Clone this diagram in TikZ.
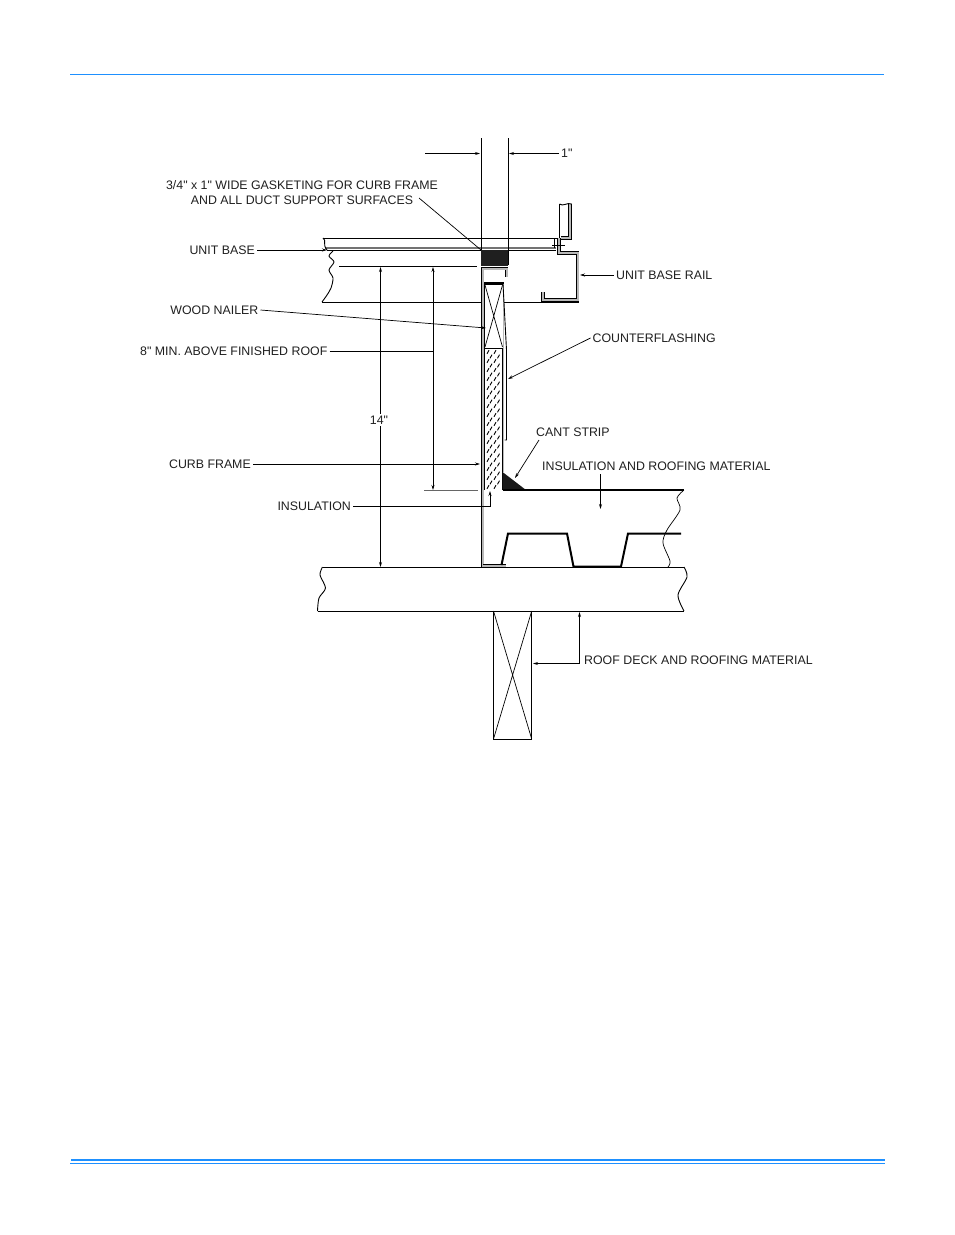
\documentclass[tikz,border=0pt]{standalone}
\usepackage{fontspec}
\newfontfamily\lblfont{Liberation Sans}
\usetikzlibrary{arrows.meta}
\definecolor{rulecol}{HTML}{1E90FF}
\definecolor{railcol}{gray}{0.72}
\tikzset{
  lbl/.style = {inner sep=2pt, text=black!88, font=\lblfont\fontsize{12.36}{15}\selectfont},
  lead/.style = {line width=.7pt},
  outline/.style = {line width=.9pt},
  heavy/.style = {line width=2pt},
  railline/.style = {line width=.95pt, double=railcol, double distance=2pt},
  fleck/.style = {line width=.9pt},
}
\begin{document}
\begin{tikzpicture}[x=1pt, y=-1pt, >={Stealth[length=5pt,width=3pt]}, line join=miter]
\useasboundingbox (0,0) rectangle (954,1235);
% page rules
\draw [rulecol, line width=1pt] (70,74) -- (884,74);
\draw [rulecol, line width=2pt] (71,1160) -- (885,1160);
\draw [rulecol, line width=1pt] (70,1163.5) -- (885,1163.5);
% unit base
\draw [outline] (323,238) -- (560,238);
\draw [black!55, line width=1.6pt] (325,248) -- (556,248);
\draw [outline] (327,250) -- (481,250);
\draw [outline] (323,238) .. controls (327,241) and (322,244) .. (327,250);
\draw [outline] plot [smooth] coordinates {(333,251) (329,256) (334,262) (329,270) (333,278) (331,288) (327,295) (322,302)};
\draw [outline] (322,302) -- (481,302);
\draw [outline] (504,302) -- (579,302);
\draw [outline] (508,250) -- (556,250);
% rail
\draw [railline] (543,292) -- (543,300) -- (577.5,300) -- (577.5,252.7) -- (558.7,252.7) -- (558.7,238);
\draw [railline] (570,204) -- (570,238) -- (560.7,238);
\draw [outline] (559.5,204) -- (559.5,238);
\draw [outline] (559.5,204) .. controls (563,207) and (567,202) .. (571.7,204);
\draw [outline] (554,238) -- (554,248);
\draw [outline] (552,245) -- (565,245);
% gasket
\fill [black!88] (481,250) rectangle (507.5,266);
% curb frame
\draw [railline] (482.5,567) -- (482.5,268.5) -- (506.5,268.5) -- (506.5,277);
\draw [railline] (483,565.5) -- (505.5,565.5);
% wood nailer
\draw [outline] (484.5,284) -- (484.5,348) -- (503,348) -- (503,284);
\draw [line width=2.2pt] (484,283.5) -- (504,283.5);
\draw [lead] (485,285) -- (502.5,347) (502.5,285) -- (485,347);
% insulation
\draw [outline] (484.5,348) -- (484.5,490);
\draw [outline] (502.5,348) -- (502.5,490);
\foreach \yy in {352,361,...,488}
  \foreach \xx in {488,495}
    \draw [fleck] ({\xx-1},{\yy+1.8}) -- ++(2,-3.6);
\foreach \yy in {356.5,365.5,...,486}
  \foreach \xx in {491,498.5}
    \draw [fleck] ({\xx-1},{\yy+1.8}) -- ++(2,-3.6);
% counterflashing
\draw [railcol, line width=1.2pt] (503.8,284) -- (503.8,472);
\draw [outline] (503,284) -- (506.5,350) -- (506.5,440) -- (504.5,440);
% cant strip and roof
\fill [black!90] (502.5,472) -- (526,490) -- (502.5,490) -- cycle;
\draw [heavy] (502.5,490) -- (684,490);
\draw [lead] plot [smooth] coordinates {(684,490) (677,498) (680,510) (667,530) (663,543) (670,561) (668,567)};
\draw [heavy] (501.5,565) -- (508,533.5) -- (567,533.5) -- (573.5,566.5) -- (621,566.5) -- (628,533.5) -- (681,533.5);
% slab
\draw [outline] (322.5,567) -- (684,567);
\draw [outline] (317.5,611) -- (684,611);
\draw [outline] plot [smooth] coordinates {(322.5,567) (320,575) (325.5,588) (319,598) (317.5,611)};
\draw [outline] plot [smooth] coordinates {(684,567) (687,577) (678,595) (684,611)};
% post
\draw [outline] (493.5,611) rectangle (531.7,739);
\draw [lead] (493.5,611) -- (531.7,739) (531.7,611) -- (493.5,739);
% labels
\node [lbl, anchor=west] (oneinch) at (559,153.5) {1"};
\node [lbl, align=center] (gasketing) at (302,193) {3/4" x 1" WIDE GASKETING FOR CURB FRAME\\AND ALL DUCT SUPPORT SURFACES};
\node [lbl, anchor=east] (unitbase) at (257,250) {UNIT BASE};
\node [lbl, anchor=west] (baserail) at (614,275) {UNIT BASE RAIL};
\node [lbl, anchor=east] (nailer) at (260.5,310) {WOOD NAILER};
\node [lbl, anchor=east] (eightmin) at (329.5,351) {8" MIN. ABOVE FINISHED ROOF};
\node [lbl, anchor=west] (flashing) at (590.5,338) {COUNTERFLASHING};
\node [lbl] (fourteen) at (379,420) {14"};
\node [lbl, anchor=west] (cant) at (534,432) {CANT STRIP};
\node [lbl, anchor=west] (roofing) at (540,466) {INSULATION AND ROOFING MATERIAL};
\node [lbl, anchor=east] (curbframe) at (253,464) {CURB FRAME};
\node [lbl, anchor=east] (insul) at (353,506) {INSULATION};
\node [lbl, anchor=west] (roofdeck) at (582,660) {ROOF DECK AND ROOFING MATERIAL};
% dimension lines and leaders
\coordinate (v1top) at (481,138);
\coordinate (v1bot) at (481,250);
\coordinate (v2top) at (508,138);
\coordinate (v2bot) at (508,265);
\coordinate (ext1) at (339,266.5);
\coordinate (ext2) at (477,266.5);
\coordinate (ext3) at (424,490);
\coordinate (ext4) at (478,490);
\draw [lead] (v1top) -- (v1bot);
\draw [lead] (v2top) -- (v2bot);
\draw [lead] (ext1) -- (ext2);
\draw [lead, black!60] (ext3) -- (ext4);
\coordinate (in1start) at (425,153.5);
\coordinate (in1end) at (480,153.5);
\coordinate (in1tip) at (509,153.5);
\draw [lead, ->] (in1start) -- (in1end);
\draw [lead, ->] (oneinch.west) -- (in1tip);
\coordinate (gasketstart) at (419,198);
\coordinate (gasketend) at (481,250);
\draw [lead] (gasketstart) -- (gasketend);
\coordinate (baseend) at (327,250);
\draw [lead, ->] (unitbase.east) -- (baseend);
\coordinate (railend) at (580,275);
\draw [lead, ->] (baserail.west) -- (railend);
\coordinate (nailerend) at (486,328);
\draw [lead, ->] (nailer.east) -- (nailerend);
\coordinate (eighttop) at (433,267);
\coordinate (eightbot) at (433,490);
\coordinate (eightmid) at (433,351);
\draw [lead, <->] (eighttop) -- (eightbot);
\draw [lead] (eightmin.east) -- (eightmid);
\coordinate (ftop) at (380.5,267);
\coordinate (fbot) at (380.5,567);
\draw [lead, ->] (fourteen.north -| ftop) -- (ftop);
\draw [lead, ->] (fourteen.south -| fbot) -- (fbot);
\coordinate (flashend) at (508,379);
\draw [lead, ->] (flashing.west) -- (flashend);
\coordinate (cantstart) at (539,440);
\coordinate (cantend) at (515,478);
\draw [lead, ->] (cantstart) -- (cantend);
\coordinate (roofstart) at (600.5,474);
\coordinate (roofend) at (600.5,509);
\draw [lead, ->] (roofstart) -- (roofend);
\coordinate (curbend) at (480,464);
\draw [lead, ->] (curbframe.east) -- (curbend);
\coordinate (insulend) at (490,491);
\draw [lead, ->] (insul.east) -| (insulend);
\coordinate (deckend) at (579.5,612);
\coordinate (postend) at (533,663.5);
\draw [lead, <->] (deckend) |- (postend);
\end{tikzpicture}
\end{document}
